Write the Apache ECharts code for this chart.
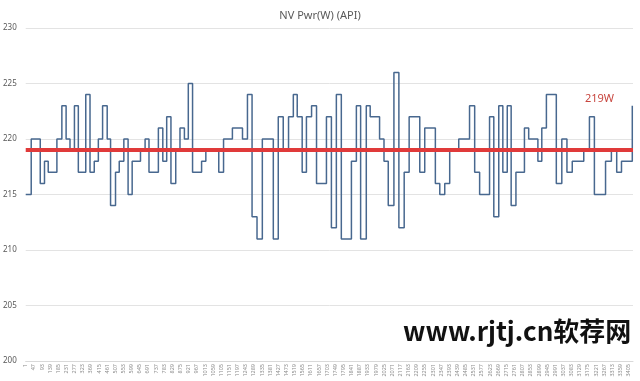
<!DOCTYPE html>
<html>
<head>
<meta charset="utf-8">
<script src="https://cdn.jsdelivr.net/npm/echarts@6/dist/echarts.min.js"></script>
<style>html,body{margin:0;padding:0;background:#fff}#c{width:640px;height:381px}</style>
</head>
<body>
<div id="c"></div>
<script>
const titleText = 'NV Pwr(W) (API)';
const xTickLabels = [1,47,93,139,185,231,277,323,369,415,461,507,553,599,645,691,737,783,829,875,921,967,1013,1059,1105,1151,1197,1243,1289,1335,1381,1427,1473,1519,1565,1611,1657,1703,1749,1795,1841,1887,1933,1979,2025,2071,2117,2163,2209,2255,2301,2347,2393,2439,2485,2531,2577,2623,2669,2715,2761,2807,2853,2899,2945,2991,3037,3083,3129,3175,3221,3267,3313,3359,3405];
const xMin = 1, xMax = 3430;
const yMin = 200, yMax = 230, yStep = 5;
// sample index where each step begins
const stepStart = [1,32,83,107,128,177,205,229,251,276,298,340,364,388,411,435,461,480,508,529,555,579,602,649,675,697,750,775,797,821,848,872,897,919,943,994,1018,1091,1118,1168,1225,1253,1279,1307,1337,1399,1427,1455,1485,1512,1534,1562,1586,1615,1643,1699,1727,1755,1783,1840,1868,1892,1924,1946,1999,2024,2048,2080,2108,2138,2166,2226,2254,2314,2339,2367,2395,2446,2507,2536,2564,2620,2644,2672,2695,2720,2742,2769,2817,2841,2893,2915,2941,2997,3028,3057,3087,3152,3184,3212,3275,3308,3338,3365,3426];
// power (W) for each step
const stepPower = [215,220,216,218,217,220,223,220,219,223,217,224,217,218,220,223,220,214,217,218,220,215,218,219,220,217,221,218,222,216,219,221,220,225,217,218,219,217,220,221,220,224,213,211,220,211,222,219,222,224,222,217,222,223,216,222,212,224,211,218,223,211,223,222,220,218,214,226,212,217,222,217,221,216,215,216,219,220,223,217,215,222,213,223,217,223,214,217,221,220,218,221,224,216,220,217,218,219,222,215,218,219,217,218,223];
const avgPower = 219;
const avgLabel = '219W';
const watermark = 'www.rjtj.cn软荐网';

const chart = echarts.init(document.getElementById('c'));
const seriesData = stepStart.map((s, i) => [s, stepPower[i]]);
const font = '"Noto Sans", "Open Sans", sans-serif';
chart.setOption({
  animation: false,
  title: {
    text: titleText, left: 'center', top: 5,
    textStyle: {fontSize: 11, fontWeight: 'normal', color: '#595959', fontFamily: font}
  },
  grid: {left: 23.5, right: 7, top: 28, bottom: 20, containLabel: false},
  xAxis: {
    type: 'value', min: xMin, max: xMax,
    axisLine: {show: true, lineStyle: {color: '#d9d9d9'}},
    axisTick: {show: false},
    splitLine: {show: false},
    axisLabel: {
      customValues: xTickLabels,
      formatter: (v) => String(v),
      rotate: 90, fontSize: 5.5, color: '#8c8c8c', margin: 3, fontFamily: font
    }
  },
  yAxis: {
    type: 'value', min: yMin, max: yMax, interval: yStep,
    axisLine: {show: false}, axisTick: {show: false},
    splitLine: {lineStyle: {color: '#e3e3e3', width: 1}},
    axisLabel: {fontSize: 8, color: '#595959', margin: 9, fontFamily: font}
  },
  series: [{
    type: 'line', step: 'end', data: seriesData,
    showSymbol: false, symbol: 'none',
    lineStyle: {color: '#48688f', width: 1.5},
    markLine: {
      silent: true, symbol: 'none',
      data: [{yAxis: avgPower}],
      lineStyle: {color: '#e03a3a', width: 4, type: 'solid'},
      label: {
        formatter: avgLabel, position: 'insideEndTop', distance: [19, 46],
        color: '#c8463f', fontSize: 11, fontFamily: font
      }
    }
  }],
  graphic: [{
    type: 'text', left: 403, top: 318, z: 100,
    style: {text: watermark, font: 'bold 26px "Noto Sans CJK SC", sans-serif', fill: '#111'}
  }]
});
</script>
</body>
</html>
